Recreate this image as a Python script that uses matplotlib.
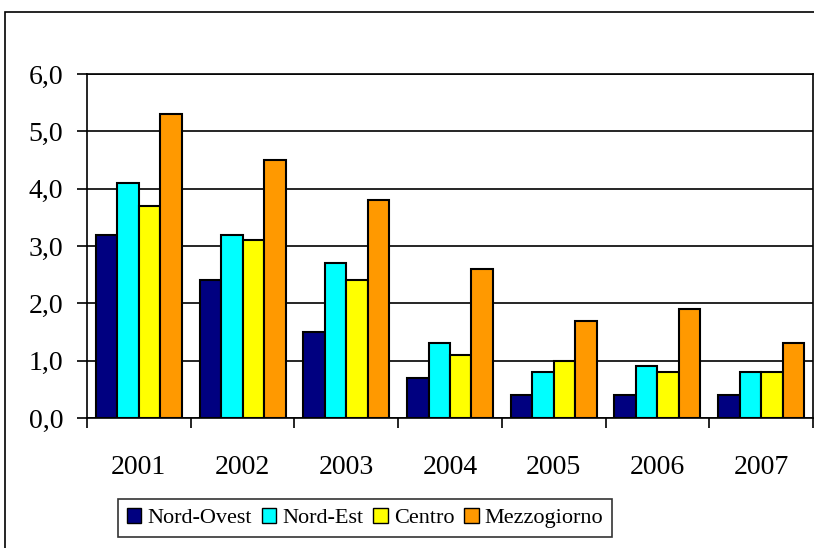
import numpy as np
import matplotlib.pyplot as plt
from matplotlib.patches import Rectangle

plt.rcParams['font.family'] = ['Liberation Serif', 'DejaVu Serif']

anni = ["2001", "2002", "2003", "2004", "2005", "2006", "2007"]
nord_ovest = [3.2, 2.4, 1.5, 0.7, 0.4, 0.4, 0.4]
nord_est = [4.1, 3.2, 2.7, 1.3, 0.8, 0.9, 0.8]
centro = [3.7, 3.1, 2.4, 1.1, 1.0, 0.8, 0.8]
mezzogiorno = [5.3, 4.5, 3.8, 2.6, 1.7, 1.9, 1.3]

serie = [("Nord-Ovest", nord_ovest, "#000080"),
         ("Nord-Est", nord_est, "#00FFFF"),
         ("Centro", centro, "#FFFF00"),
         ("Mezzogiorno", mezzogiorno, "#FF9900")]

fig = plt.figure(figsize=(8.14, 5.48), dpi=100)
ax = fig.add_axes([87/814, 1-418/548, 726/814, 344/548])

x = np.arange(len(anni))
w = 0.207
for i, (nome, val, col) in enumerate(serie):
    ax.bar(x + (i - 1.5) * w, val, w, color=col, edgecolor="black",
           linewidth=1.5, label=nome, zorder=3)

ax.set_xlim(-0.5, len(anni) - 0.5)
ax.set_ylim(0, 6)
ax.set_yticks(np.arange(0, 7, 1))
ax.set_yticklabels([f"{v:.1f}".replace(".", ",") for v in np.arange(0, 7, 1)],
                   fontsize=20)
ax.yaxis.grid(True, color="black", linewidth=1.2, zorder=0)

# year labels centred, ticks at group boundaries
ax.set_xticks(x)
ax.set_xticklabels(anni, fontsize=20)
ax.tick_params(axis="x", length=0, pad=27)
ax.set_xticks(np.arange(-0.5, len(anni)), minor=True)
ax.tick_params(axis="x", which="minor", length=7, width=1.2, direction="out")
ax.tick_params(axis="y", length=7, width=1.2, direction="out", pad=10)

for s in ax.spines.values():
    s.set_linewidth(1.2)

leg = fig.legend(loc="center", bbox_to_anchor=(365/814, 1-518/548), ncol=4,
                 fontsize=16, frameon=True, fancybox=False, edgecolor="black",
                 handlelength=0.65, handleheight=0.65, handletextpad=0.27,
                 columnspacing=0.45, borderpad=0.4, borderaxespad=0)
leg.get_frame().set_linewidth(1.2)
for h in leg.legend_handles:
    h.set_linewidth(1.0)

# outer chart frame
fig.patches.append(Rectangle((5/814, -0.1), 1.2, 1.1 - 12/548,
                             transform=fig.transFigure, fill=False,
                             edgecolor="black", linewidth=1.2))

fig.savefig("out.png", dpi=100)
